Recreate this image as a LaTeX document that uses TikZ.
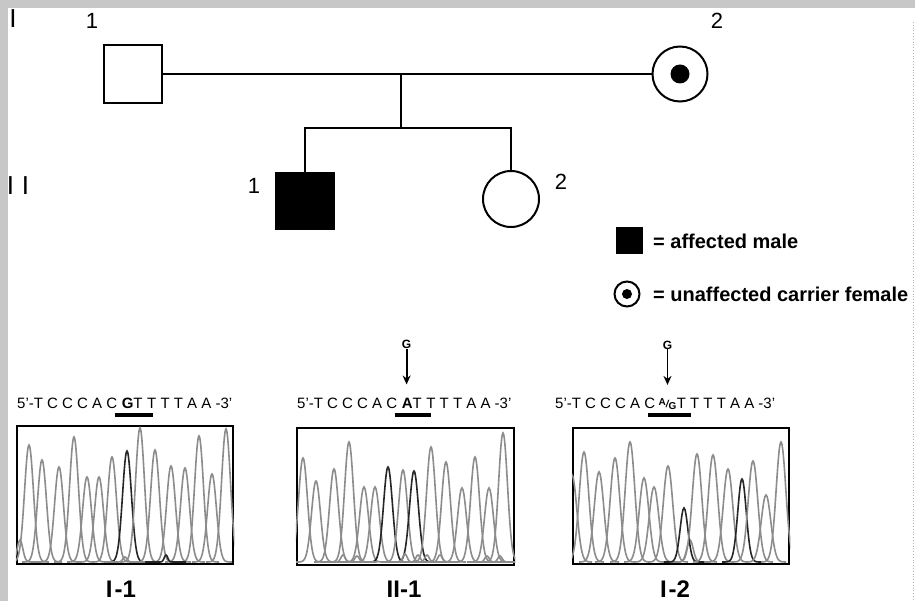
\documentclass[tikz,border=0pt]{standalone}
\usepackage{fontspec}
\setmainfont{Liberation Sans}
\usetikzlibrary{arrows.meta}
\newcommand\pk[4][trace]{\draw[#1] plot[domain=-20:20,samples=41,smooth] ({#2+\x},{562-(562-#3)*exp(-(\x/#4)^2)});}
\begin{document}
\begin{tikzpicture}[x=1pt,y=-1pt,
  ped/.style={line width=2pt,draw=black},
  num/.style={font=\fontsize{22}{22}\selectfont,inner sep=0},
  gen/.style={font=\fontsize{26}{26}\selectfont,inner sep=0},
  leg/.style={font=\bfseries\fontsize{20}{20}\selectfont,anchor=west,inner sep=0},
  seq/.style={font=\fontsize{15}{15}\selectfont,anchor=base west,inner sep=0},
  glbl/.style={font=\bfseries\fontsize{12}{12}\selectfont,inner sep=0},
  arr/.style={line width=1.8pt,-{Stealth[length=9pt,width=8pt]}},
  bar/.style={line width=4pt},
  panel/.style={draw,line width=2.5pt,inner sep=0},
  trace/.style={draw=black!45,line width=1.6pt},
  dtrace/.style={draw=black!85,line width=1.6pt},
  panlbl/.style={font=\bfseries\fontsize{24}{24}\selectfont,inner sep=0,anchor=base}]
\useasboundingbox (0,0) rectangle (915,601);
\fill[black!22] (0,0) rectangle (915,601);
\fill[white] (8,8) rectangle (915,601);
\draw[black!30,dotted,line width=0.8pt] (913,22) -- (913,601);

% generation labels
\node[gen] (gI) at (13,19) {I};
\node[gen] (gII) at (18,186) {I\hspace{8pt}I};

% pedigree
\node[draw,ped,minimum width=58,minimum height=58,inner sep=0] (i1) at (133,74) {};
\node[circle,draw,ped,minimum size=55,inner sep=0] (i2) at (680,74) {};
\fill (i2.center) circle (9.5);
\node[num] (n11) at (92,21) {1};
\node[num] (n12) at (717,21) {2};
\draw[ped] (i1.east) -- (i2.west);
\coordinate (m) at (401,74);
\coordinate (s) at (401,128);
\draw[ped] (m) -- (s);
\node[draw,ped,fill=black,minimum width=58,minimum height=56,inner sep=0] (ii1) at (305,201) {};
\node[circle,draw,ped,minimum size=56,inner sep=0] (ii2) at (511,199) {};
\draw[ped] (ii1.north) -- (ii1.north |- s) -- (ii2.north |- s) -- (ii2.north);
\node[num] (n21) at (254,186) {1};
\node[num] (n22) at (561,182) {2};

% legend
\node[fill=black,minimum size=27,inner sep=0] (lm) at (629,241) {};
\node[leg] (lmt) at (653,241) {= affected male};
\node[circle,draw,line width=2pt,minimum size=25,inner sep=0] (lf) at (627,294) {};
\fill (lf.center) circle (5);
\node[leg] (lft) at (653,294) {= unaffected carrier female};

% sequences
\node[seq] (a1) at (17,408) {5'-T C C C A C\kern0.28em};
\node[seq] (b1) at (a1.base east) {\bfseries G\mdseries T};
\node[seq] (c1) at (b1.base east) {\kern0.28em T T T A A -3'};
\draw[bar] ([yshift=-7pt]b1.base) ++(-17,0) -- ++(38,0);

\node[seq] (a2) at (297,408) {5'-T C C C A C\kern0.28em};
\node[seq] (b2) at (a2.base east) {\bfseries A\mdseries T};
\node[seq] (c2) at (b2.base east) {\kern0.28em T T T A A -3'};
\draw[bar] ([yshift=-7pt]b2.base) ++(-17,0) -- ++(36,0);
\coordinate (t2) at ([xshift=5pt,yshift=13pt]b2.north west);
\node[glbl] (g2) at ([yshift=40pt]t2) {G};
\draw[arr] (g2.south) -- (t2);

\node[seq] (a3) at (555,408) {5'-T C C C A C\kern0.2em};
\node[seq] (b3) at (a3.base east) {\bfseries\fontsize{10}{10}\selectfont\raisebox{3pt}{A}\raisebox{1pt}{\itshape/}\raisebox{-1pt}{G}};
\node[seq] (c3) at (b3.base east) {T T T T A A -3'};
\draw[bar] ([yshift=-7pt]b3.base) ++(-20,0) -- ++(43,0);
\coordinate (t3) at ([yshift=13pt]b3.north);
\node[glbl] (g3) at ([yshift=40pt]t3) {G};
\draw[arr] (g3.south) -- (t3);

% chromatogram panels
\node[panel,minimum width=216,minimum height=138] (p1) at (125,495) {};
\node[panel,minimum width=217,minimum height=137] (p2) at (405.5,496.5) {};
\node[panel,minimum width=216,minimum height=136] (p3) at (681,496) {};

\begin{scope}
\clip (p1.south west) rectangle (p1.north east);
\pk{20}{540}{4}\pk{29}{445}{6.3}\pk{42}{460}{6.3}\pk{59}{467}{6.3}\pk{74}{437}{6.3}
\pk{87}{477}{6.3}\pk{99}{477}{6.3}\pk{112}{457}{6.3}\pk[dtrace]{127}{451}{6.3}
\pk{140}{428}{6.3}\pk{155}{450}{6.3}\pk{171}{466}{6.3}\pk{185}{468}{6.3}
\pk{199}{436}{6.3}\pk{212}{474}{6.3}\pk{226}{429}{6.3}
\pk[dtrace]{166}{555}{2.5}\pk{125}{557}{3}
\end{scope}

\begin{scope}
\clip (p2.south west) rectangle (p2.north east);
\pk{303}{458}{6.3}\pk{316}{481}{6.3}\pk{334}{469}{6.3}\pk{349}{442}{6.3}
\pk{364}{487}{6.3}\pk{375}{487}{6.3}\pk[dtrace]{388}{467}{6.3}\pk{403}{470}{6.3}
\pk[dtrace]{414}{471}{6.3}\pk{431}{447}{6.3}\pk{446}{462}{6.3}\pk{462}{488}{6.3}
\pk{475}{457}{6.3}\pk{489}{488}{6.3}\pk{503}{433}{6.3}
\pk{343}{555}{3}\pk{357}{556}{3}\pk{405}{554}{3}\pk{418}{555}{3}
\pk{427}{555}{3}\pk{440}{555}{3}\pk{487}{556}{3}\pk{500}{556}{3}
\end{scope}

\begin{scope}
\clip (p3.south west) rectangle (p3.north east);
\pk{572}{475}{6.8}\pk{584}{452}{6.8}\pk{599}{472}{6.8}\pk{615}{458}{6.8}
\pk{630}{442}{6.8}\pk{644}{478}{6.8}\pk{654}{487}{6.8}\pk{668}{466}{6.8}
\pk{690}{540}{4.5}\pk[dtrace]{684}{508}{5.5}\pk{697}{454}{6.8}\pk{713}{455}{6.8}
\pk{728}{469}{6.8}\pk[dtrace]{742}{479}{6}\pk{753}{461}{6.8}\pk{766}{495}{6.8}
\pk{781}{442}{6.8}
\end{scope}

% panel labels
\node[panlbl] (l1) at (121,597) {I\kern2pt-1};
\node[panlbl] (l2) at (404,597) {II-1};
\node[panlbl] (l3) at (675,597) {I\kern2pt-2};
\end{tikzpicture}
\end{document}
